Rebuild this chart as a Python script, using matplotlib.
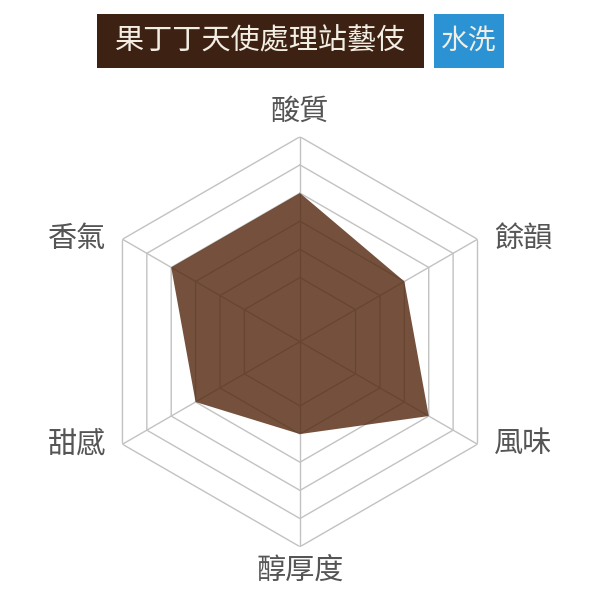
import numpy as np
import matplotlib
matplotlib.use("Agg")
import matplotlib.pyplot as plt
from matplotlib.patches import Rectangle

plt.rcParams['font.family'] = ['Noto Sans CJK TC', 'DejaVu Sans']

title = "果丁丁天使處理站藝伎"
process = "水洗"
categories = ["酸質", "餘韻", "風味", "醇厚度", "甜感", "香氣"]
values = [8, 7, 8, 6, 7, 8]
levels = [5, 6, 7, 8, 9, 10]
r_min = 2.72
r_max = 10

fig = plt.figure(figsize=(6, 6), dpi=100)
fig.patch.set_facecolor('white')

# title boxes
fig.patches.append(Rectangle((0.1617, 0.8867), 0.545, 0.09, transform=fig.transFigure,
                             facecolor='#3d2113', edgecolor='none', zorder=1))
fig.patches.append(Rectangle((0.7233, 0.8867), 0.1167, 0.09, transform=fig.transFigure,
                             facecolor='#2b93d4', edgecolor='none', zorder=1))
fig.text(0.4342, 0.9317, title, ha='center', va='center', fontsize=21, color='#f3eee4', zorder=2)
fig.text(0.7817, 0.9317, process, ha='center', va='center', fontsize=20, color='#f3eee4', zorder=2)

ax = fig.add_axes([0.1583, 0.0888, 0.6833, 0.6833], projection='polar')
ax.set_theta_offset(np.pi / 2)
ax.set_theta_direction(-1)
ax.set_ylim(r_min, r_max)
ax.grid(False)
ax.spines['polar'].set_visible(False)
ax.set_xticks([])
ax.set_yticks([])
ax.patch.set_alpha(0)

n = len(categories)
angles = np.arange(n) * 2 * np.pi / n
closed = np.concatenate([angles, angles[:1]])

grid_color = '#c2c2c2'
for lv in levels:
    ax.plot(closed, [lv] * (n + 1), color=grid_color, lw=1, zorder=1)
for a in angles:
    ax.plot([a, a], [r_min, r_max], color=grid_color, lw=1, zorder=1)

vals = np.array(values + values[:1], dtype=float)
ax.fill(closed, vals, facecolor=(82/255, 38/255, 12/255), alpha=0.8, edgecolor='none', zorder=2)

label_color = '#555555'
for a, name in zip(angles, categories):
    deg = np.degrees(a) % 360
    if np.isclose(deg, 0):
        off, ha, va = (0, 18), 'center', 'center'
    elif np.isclose(deg, 180):
        off, ha, va = (0, -17), 'center', 'center'
    elif deg < 180:
        off, ha, va = (12, 0), 'left', 'center'
    else:
        off, ha, va = (-12, 0), 'right', 'center'
    ax.annotate(name, xy=(a, r_max), xytext=off, textcoords='offset points',
                ha=ha, va=va, fontsize=21, color=label_color, annotation_clip=False)

fig.savefig('out.png', dpi=100, facecolor='white')
